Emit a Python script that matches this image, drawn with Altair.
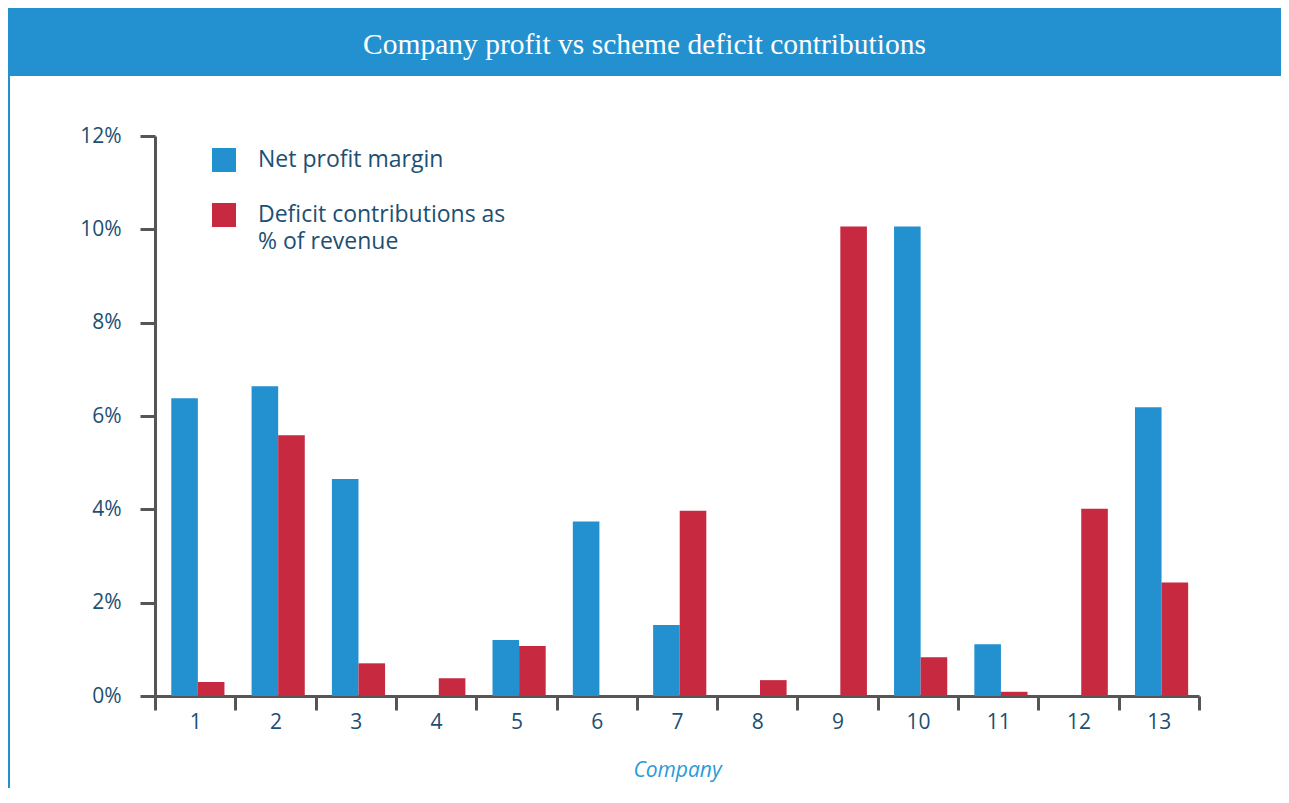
import altair as alt
import pandas as pd

# ---- data ----
companies = [str(i) for i in range(1, 14)]
net_profit_margin = [0.0638, 0.0664, 0.0465, 0.0, 0.0120, 0.0374, 0.0152, 0.0, 0.0, 0.1006, 0.0111, 0.0, 0.0619]
deficit_contrib = [0.0030, 0.0559, 0.0070, 0.0038, 0.0107, 0.0, 0.0397, 0.0034, 0.1006, 0.0083, 0.0009, 0.0401, 0.0243]
series_names = ["Net profit margin", "Deficit contributions as % of revenue"]
series_colors = ["#2391D0", "#C62940"]
y_ticks = [0, 0.02, 0.04, 0.06, 0.08, 0.10, 0.12]
title_text = "Company profit vs scheme deficit contributions"
x_title = "Company"

rows = []
for c, a, b in zip(companies, net_profit_margin, deficit_contrib):
    rows.append({"company": c, "series": series_names[0], "value": a})
    rows.append({"company": c, "series": series_names[1], "value": b})
df = pd.DataFrame(rows)

BLUE = "#2391D0"
AXIS_GREY = "#555555"
LABEL_COLOR = "#1d4f73"
FONT = "Open Sans"

# ---- banner ----
banner = alt.Chart(pd.DataFrame({"t": [title_text]})).mark_text(
    color="white", font="Liberation Serif", fontSize=29.5, align="center", baseline="middle", dy=3
).encode(text="t:N").properties(
    width=1273, height=68, view=alt.ViewBackground(fill=BLUE, stroke=None)
)

# ---- left blue rule (a thin filled view) ----
left_line = alt.Chart(pd.DataFrame({"t": [""]})).mark_text().encode(text="t:N").properties(
    width=2, height=712, view=alt.ViewBackground(fill=BLUE, stroke=None)
)

spacer = alt.Chart(pd.DataFrame({"t": [""]})).mark_text().encode(text="t:N").properties(
    width=10, height=60, view=alt.ViewBackground(stroke=None)
)

label_expr = (
    "datum.label == '" + series_names[1] + "' ? ['Deficit contributions as', '% of revenue'] : datum.label"
)

main = alt.Chart(df).mark_bar().encode(
    x=alt.X(
        "company:N",
        sort=companies,
        scale=alt.Scale(paddingInner=0, paddingOuter=0),
        axis=alt.Axis(
            title=x_title,
            labelAngle=0,
            tickBand="extent",
            domainColor=AXIS_GREY, domainWidth=3,
            tickColor=AXIS_GREY, tickWidth=3, tickSize=14,
            labelFont=FONT, labelFontSize=21, labelColor=LABEL_COLOR, labelPadding=1,
            titleFont=FONT, titleFontSize=21, titleFontStyle="italic", titleFontWeight="normal",
            titleColor="#2a9bd8", titlePadding=27,
        ),
    ),
    xOffset=alt.XOffset(
        "series:N", sort=series_names,
        scale=alt.Scale(paddingInner=0, paddingOuter=0.51, align=0.6),
    ),
    y=alt.Y(
        "value:Q",
        scale=alt.Scale(domain=[0, 0.12], nice=False),
        axis=alt.Axis(
            title=None, values=y_ticks, format=".0%", grid=False,
            domainColor=AXIS_GREY, domainWidth=3,
            tickColor=AXIS_GREY, tickWidth=3, tickSize=15,
            labelFont=FONT, labelFontSize=21, labelColor=LABEL_COLOR, labelPadding=19,
        ),
    ),
    color=alt.Color(
        "series:N",
        sort=series_names,
        scale=alt.Scale(domain=series_names, range=series_colors),
        legend=alt.Legend(
            title=None, orient="none", legendX=204, legendY=140, padding=0,
            symbolType="square", symbolSize=576, symbolStrokeWidth=0, symbolOpacity=1,
            labelFont=FONT, labelFontSize=23, labelColor=LABEL_COLOR, labelOffset=22,
            labelLimit=400, rowPadding=31, labelExpr=label_expr,
        ),
    ),
).properties(width=1044, height=560, view=alt.ViewBackground(stroke=None))

right_col = alt.vconcat(spacer, main, spacing=0, bounds="flush")
lower = alt.hconcat(left_line, right_col, spacing=145, bounds="flush")
chart = (
    alt.vconcat(banner, lower, spacing=0, bounds="flush")
    .properties(padding=0)
    .configure(style={"guide-label": {"lineHeight": 27}})
    .configure_view(stroke=None)
    .configure_concat(spacing=0)
)

chart.save("out.html", embed_options={"renderer": "svg", "actions": False})
